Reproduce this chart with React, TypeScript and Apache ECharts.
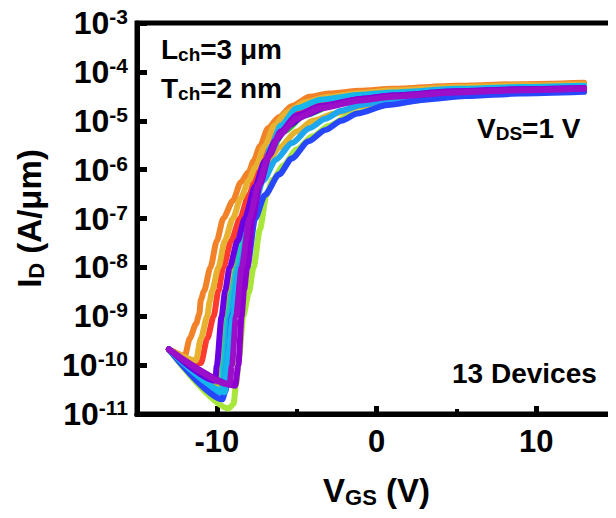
import React, { useEffect, useRef } from "react";
import * as echarts from "echarts";

const FONT = "'Liberation Sans', Arial, Helvetica, sans-serif";

// Axis ticks
const xMajorTicks = [-10, 0, 10];
const xMinorTicks = [-5, 5];
const yMinExp = -11;
const yMaxExp = -3;

// Transfer curves: [V_GS (V), I_D (A/um)]
const device01 = [[-13, 2.1e-10], [-9.25, 1.3e-11], [-8.95, 1.6e-11], [-8.8, 4e-11], [-8.6, 1.5e-10], [-8.35, 1e-9], [-8.0, 3e-9], [-7.7, 1e-8], [-7.3, 6e-8], [-6.9, 3e-7], [-6.5, 6.2e-7], [-5.8, 1.25e-6], [-5, 2.6e-6], [-4, 4.8e-6], [-3, 7.8e-6], [-1.5, 1.4e-5], [1, 2.3e-5], [5, 3.3e-5], [9, 3.8e-5], [13, 4.1e-5]];
const device02 = [[-13, 2.1e-10], [-9.9, 3.5e-11], [-9.8, 1e-10], [-9.55, 1e-9], [-9.0, 1e-8], [-8.15, 1e-7], [-7.4, 6e-7], [-6.7, 2.2e-6], [-5.8, 6e-6], [-4.5, 1.3e-5], [-2.5, 2.2e-5], [0, 3.1e-5], [5, 4e-5], [9, 4.4e-5], [13, 4.7e-5]];
const device03 = [[-13, 2.1e-10], [-9.8, 3.3e-11], [-9.7, 1e-10], [-9.4, 1e-9], [-8.9, 1e-8], [-8.1, 1e-7], [-7.4, 5e-7], [-6.8, 1.4e-6], [-6.1, 2.8e-6], [-5, 6e-6], [-4, 1e-5], [-2.6, 1.4e-5], [-1, 2e-5], [1, 2.7e-5], [5, 3.6e-5], [9, 4.2e-5], [13, 4.6e-5]];
const device04 = [[-13, 2.1e-10], [-11.0, 1.1e-10], [-10.6, 3.5e-10], [-10.2, 1e-9], [-9.9, 3.3e-9], [-9.6, 1e-8], [-9.1, 3.5e-8], [-8.55, 1e-7], [-8.0, 3e-7], [-7.4, 1e-6], [-6.7, 3.5e-6], [-5.8, 9e-6], [-4.5, 1.7e-5], [-3, 2.5e-5], [-1, 3.2e-5], [1, 3.7e-5], [5, 4.4e-5], [9, 4.8e-5], [13, 5.1e-5]];
const device05 = [[-13, 2.1e-10], [-9.7, 3e-11], [-9.6, 1e-10], [-9.3, 1e-9], [-9.05, 3.3e-9], [-8.75, 1e-8], [-8.4, 3.5e-8], [-8.05, 1e-7], [-7.4, 5e-7], [-6.7, 2e-6], [-5.9, 6e-6], [-4.8, 1.2e-5], [-3, 2e-5], [-1, 2.7e-5], [1, 3.2e-5], [5, 3.9e-5], [9, 4.3e-5], [13, 4.6e-5]];
const device06 = [[-13, 2.1e-10], [-12.0, 1.55e-10], [-11.7, 3.5e-10], [-11.3, 7e-10], [-11.1, 1.1e-9], [-11.0, 2.2e-9], [-10.8, 3.3e-9], [-10.4, 1e-8], [-10.0, 3.5e-8], [-9.6, 1e-7], [-9.0, 2.3e-7], [-8.5, 5.5e-7], [-8.0, 9e-7], [-7.7, 1.5e-6], [-7.3, 3e-6], [-6.8, 7e-6], [-6.1, 1.2e-5], [-5.3, 2e-5], [-4.2, 3.1e-5], [-3, 3.6e-5], [-1, 4.1e-5], [1, 4.5e-5], [5, 5.2e-5], [9, 5.6e-5], [13, 6e-5]];
const device07 = [[-13, 2.1e-10], [-11.3, 1.25e-10], [-11.0, 3.5e-10], [-10.6, 1e-9], [-10.45, 2e-9], [-10.3, 3.3e-9], [-9.9, 1e-8], [-9.5, 3.5e-8], [-9.0, 1e-7], [-8.5, 2.6e-7], [-8.0, 6e-7], [-7.6, 1.1e-6], [-7.0, 3e-6], [-6.4, 8e-6], [-5.6, 1.5e-5], [-4.5, 2.4e-5], [-3, 3.1e-5], [-1, 3.7e-5], [1, 4.2e-5], [5, 4.9e-5], [9, 5.3e-5], [13, 5.6e-5]];
const device08 = [[-13, 2.1e-10], [-9.6, 2.6e-11], [-9.45, 1e-10], [-9.15, 1e-9], [-8.6, 1e-8], [-7.85, 1e-7], [-7.1, 6e-7], [-6.3, 1.6e-6], [-5.3, 3.5e-6], [-4.2, 7e-6], [-3.2, 1.1e-5], [-2.2, 1.6e-5], [-1, 2.1e-5], [1, 2.8e-5], [5, 3.6e-5], [9, 4.1e-5], [13, 4.4e-5]];
const device09 = [[-13, 2.1e-10], [-9.66, 2e-11], [-9.45, 3e-11], [-9.3, 1e-10], [-9.05, 1e-9], [-8.55, 3.3e-9], [-8.1, 1e-8], [-7.6, 1e-7], [-7.0, 3e-7], [-6.1, 8e-7], [-5.3, 1.7e-6], [-4.25, 3.8e-6], [-3.2, 6.5e-6], [-2.2, 1e-5], [-1.2, 1.4e-5], [0.7, 2.1e-5], [3, 2.7e-5], [5.6, 3.2e-5], [9, 3.6e-5], [13, 3.9e-5]];
const device10 = [[-13, 2.1e-10], [-9.5, 2.8e-11], [-9.35, 1e-10], [-9.0, 1e-9], [-8.5, 1e-8], [-7.8, 1e-7], [-7.2, 7e-7], [-6.6, 3e-6], [-6.0, 8e-6], [-5, 1.8e-5], [-3.5, 2.7e-5], [-1, 3.4e-5], [1, 3.8e-5], [5, 4.5e-5], [9, 4.9e-5], [13, 5.2e-5]];
const device11 = [[-13, 2.1e-10], [-10.1, 4.8e-11], [-10.0, 1e-10], [-9.7, 1e-9], [-9.48, 3.3e-9], [-9.2, 1e-8], [-8.7, 3.5e-8], [-8.25, 1e-7], [-7.6, 4.5e-7], [-7.0, 1.5e-6], [-6.3, 4e-6], [-5.5, 8e-6], [-4.5, 1.3e-5], [-3, 2e-5], [-1, 2.8e-5], [1, 3.3e-5], [5, 4e-5], [9, 4.4e-5], [13, 4.6e-5]];
const device12 = [[-13, 2.1e-10], [-8.85, 3.8e-11], [-8.65, 1e-10], [-8.45, 1e-9], [-8.3, 3.3e-9], [-8.1, 1e-8], [-7.75, 1e-7], [-7.3, 5e-7], [-6.7, 2e-6], [-6.0, 6e-6], [-5, 1.3e-5], [-3.5, 2e-5], [-1, 2.8e-5], [1, 3.3e-5], [5, 4e-5], [9, 4.4e-5], [13, 4.7e-5]];
const device13 = [[-13, 2.1e-10], [-9.2, 4e-11], [-9.05, 1e-10], [-8.8, 1e-9], [-8.45, 1e-8], [-7.95, 1e-7], [-7.4, 5e-7], [-6.8, 1.8e-6], [-6.1, 5e-6], [-5, 1.1e-5], [-3.5, 1.8e-5], [-1, 2.6e-5], [1, 3.1e-5], [5, 3.8e-5], [9, 4.2e-5], [13, 4.5e-5]];

const devices = [device01, device02, device03, device04, device05, device06, device07, device08, device09, device10, device11, device12, device13];
const deviceColors = ["#A8E63A", "#2DC51E", "#E5B22E", "#FF3A2F", "#1FC6BE", "#F28228", "#E8B12F", "#1EA6EF", "#2747FF", "#15B6EC", "#6A00E4", "#8E00D0", "#9B0FC8"];

const bold = (size: number, extra: any = {}) => ({
  fontSize: size,
  fontWeight: "bold",
  fontFamily: FONT,
  color: "#000",
  ...extra,
});

export default function App() {
  const ref = useRef<HTMLDivElement>(null);

  useEffect(() => {
    if (!ref.current) return;
    const chart = echarts.init(ref.current, undefined, { renderer: "svg" });

    const annRich = {
      n: bold(28, { lineHeight: 30 }),
      s: bold(19, { lineHeight: 14, verticalAlign: "bottom" }),
    };

    const option: any = {
      animation: false,
      backgroundColor: "#fff",
      grid: {
        left: 137,
        right: -7,
        top: 23,
        bottom: 104,
        show: true,
        borderColor: "#000",
        borderWidth: 5,
        containLabel: false,
      },
      xAxis: [
        {
          type: "value",
          min: -15,
          max: 15,
          position: "bottom",
          axisLine: { show: true, onZero: false, lineStyle: { color: "#000", width: 5 } },
          splitLine: { show: false },
          axisTick: {
            show: true,
            inside: true,
            length: 8,
            customValues: xMajorTicks,
            lineStyle: { color: "#000", width: 5 },
          },
          axisLabel: {
            customValues: xMajorTicks,
            margin: 12,
            ...bold(31),
            formatter: (v: number) => String(v),
          },
          name: "{n|V}{s|GS}{n| (V)}",
          nameLocation: "middle",
          nameGap: 58,
          nameTextStyle: {
            rich: {
              n: bold(33, { lineHeight: 36 }),
              s: bold(22, { lineHeight: 16, verticalAlign: "bottom" }),
            },
          },
        },
        {
          type: "value",
          min: -15,
          max: 15,
          position: "bottom",
          axisLine: { show: true, onZero: false, lineStyle: { color: "#000", width: 5 } },
          splitLine: { show: false },
          axisLabel: { show: false },
          axisTick: {
            show: true,
            inside: true,
            length: 5,
            customValues: xMinorTicks,
            lineStyle: { color: "#000", width: 4 },
          },
        },
      ],
      yAxis: {
        type: "log",
        logBase: 10,
        min: Math.pow(10, yMinExp),
        max: Math.pow(10, yMaxExp),
        interval: 1,
        position: "left",
        axisLine: { show: true, onZero: false, lineStyle: { color: "#000", width: 5 } },
        splitLine: { show: false },
        minorTick: { show: false },
        axisTick: {
          show: true,
          inside: true,
          length: 10,
          lineStyle: { color: "#000", width: 5 },
        },
        axisLabel: {
          margin: 9,
          formatter: (v: number) => `{b|10}{s|${Math.round(Math.log10(v))}}`,
          rich: {
            b: bold(32, { lineHeight: 34 }),
            s: bold(21, { lineHeight: 19, verticalAlign: "top" }),
          },
        },
        name: "{n|I}{s|D}{n| (A/μm)}",
        nameLocation: "middle",
        nameRotate: 90,
        nameGap: 90,
        nameTextStyle: {
          rich: {
            n: bold(33, { lineHeight: 36 }),
            s: bold(22, { lineHeight: 16, verticalAlign: "bottom" }),
          },
        },
      },
      graphic: [
        { type: "text", left: 161, top: 35, style: { text: "{n|L}{s|ch}{n|=3 μm}", rich: annRich } },
        { type: "text", left: 161, top: 74, style: { text: "{n|T}{s|ch}{n|=2 nm}", rich: annRich } },
        { type: "text", left: 477, top: 114, style: { text: "{n|V}{s|DS}{n|=1 V}", rich: annRich } },
        { type: "text", left: 452, top: 359, style: { text: "{n|13 Devices}", rich: annRich } },
      ],
      series: devices.map((d, i) => ({
        type: "line",
        xAxisIndex: 0,
        data: d,
        showSymbol: false,
        symbol: "none",
        smooth: 0.25,
        smoothMonotone: "x",
        lineStyle: { color: deviceColors[i], width: 6, cap: "round", join: "round" },
        z: 2 + i,
      })),
    };

    chart.setOption(option);
    return () => chart.dispose();
  }, []);

  return <div ref={ref} style={{ width: 616, height: 518, margin: -8 }} />;
}
